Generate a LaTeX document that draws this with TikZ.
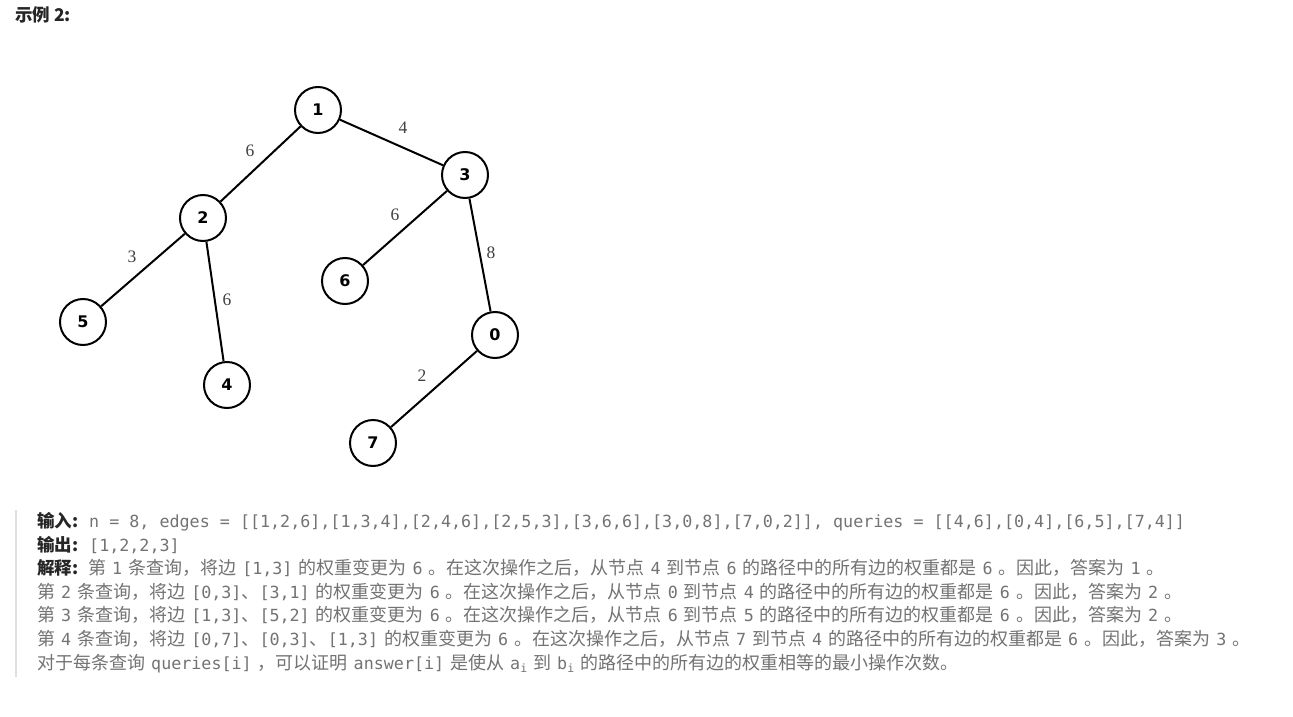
\documentclass[tikz,border=0pt]{standalone}
\usepackage{fontspec}
\setmainfont{DejaVu Sans}
\newfontfamily\cjk{Noto Sans CJK SC}
\newfontfamily\monof{DejaVu Sans Mono}
\newfontfamily\numserif{Liberation Serif}
\newfontfamily\nodefont{DejaVu Sans}
\definecolor{txtgray}{HTML}{737373}
\definecolor{lbl}{HTML}{262626}
\definecolor{bordergray}{HTML}{E0E0E0}
\newcommand{\m}[1]{{\monof\fontsize{16.7}{20}\selectfont #1}}
\newcommand{\s}{\hspace{6pt}}
\newcommand{\sub}[1]{\raisebox{-3pt}{\monof\fontsize{11.5}{12}\selectfont #1}}
\tikzset{
  vert/.style={circle, draw, line width=2pt, minimum size=46pt, inner sep=0pt,
    font=\nodefont\bfseries\fontsize{16}{18}\selectfont},
  edge/.style={line width=2pt},
  wlabel/.style={font=\numserif\fontsize{17.5}{20}\selectfont, text=black!75},
  textline/.style={anchor=base west, inner sep=0pt, text=txtgray,
    font=\cjk\fontsize{18}{22}\selectfont},
  head/.style={anchor=base west, inner sep=0pt, text=lbl,
    font=\cjk\bfseries\fontsize{17.5}{22}\selectfont}
}
\begin{document}
\begin{tikzpicture}[x=1pt,y=-1pt]
\useasboundingbox (0,0) rectangle (1293,717);
\fill[white] (0,0) rectangle (1293,717);
% title
\node[head] (title) at (15,22) {示例 2:};
% tree
\node[vert] (n1) at (318,110) {1};
\node[vert] (n3) at (465,175) {3};
\node[vert] (n2) at (203,218) {2};
\node[vert] (n6) at (345,281) {6};
\node[vert] (n5) at (83,322) {5};
\node[vert] (n0) at (495,335) {0};
\node[vert] (n4) at (227,385) {4};
\node[vert] (n7) at (373,443) {7};
\draw[edge] (n1) -- (n2);
\draw[edge] (n1) -- (n3);
\draw[edge] (n2) -- (n5);
\draw[edge] (n2) -- (n4);
\draw[edge] (n3) -- (n6);
\draw[edge] (n3) -- (n0);
\draw[edge] (n0) -- (n7);
\node[wlabel] (w12) at (250,151) {6};
\node[wlabel] (w13) at (403,128) {4};
\node[wlabel] (w36) at (395,215) {6};
\node[wlabel] (w30) at (491,253) {8};
\node[wlabel] (w25) at (132,257) {3};
\node[wlabel] (w24) at (227,300) {6};
\node[wlabel] (w07) at (422,376) {2};
% text block
\draw[bordergray, line width=2pt] (16,510) -- (16,677);
\node[head] (h1) at (37,527) {输入:};
\node[textline] (t1) at (89,527) {\m{n = 8, edges = [[1,2,6],[1,3,4],[2,4,6],[2,5,3],[3,6,6],[3,0,8],[7,0,2]], queries = [[4,6],[0,4],[6,5],[7,4]]}};
\node[head] (h2) at (37,551) {输出:};
\node[textline] (t2) at (89,551) {\m{[1,2,2,3]}};
\node[head] (h3) at (37,574) {解释:};
\node[textline] (t3) at (88,574) {第\s{}\m{1}\s{}条查询，将边\s{}\m{[1,3]}\s{}的权重变更为\s{}\m{6}\s{}。在这次操作之后，从节点\s{}\m{4}\s{}到节点\s{}\m{6}\s{}的路径中的所有边的权重都是\s{}\m{6}\s{}。因此，答案为\s{}\m{1}\s{}。};
\node[textline] (t4) at (37,598) {第\s{}\m{2}\s{}条查询，将边\s{}\m{[0,3]}、\m{[3,1]}\s{}的权重变更为\s{}\m{6}\s{}。在这次操作之后，从节点\s{}\m{0}\s{}到节点\s{}\m{4}\s{}的路径中的所有边的权重都是\s{}\m{6}\s{}。因此，答案为\s{}\m{2}\s{}。};
\node[textline] (t5) at (37,621) {第\s{}\m{3}\s{}条查询，将边\s{}\m{[1,3]}、\m{[5,2]}\s{}的权重变更为\s{}\m{6}\s{}。在这次操作之后，从节点\s{}\m{6}\s{}到节点\s{}\m{5}\s{}的路径中的所有边的权重都是\s{}\m{6}\s{}。因此，答案为\s{}\m{2}\s{}。};
\node[textline] (t6) at (37,645) {第\s{}\m{4}\s{}条查询，将边\s{}\m{[0,7]}、\m{[0,3]}、\m{[1,3]}\s{}的权重变更为\s{}\m{6}\s{}。在这次操作之后，从节点\s{}\m{7}\s{}到节点\s{}\m{4}\s{}的路径中的所有边的权重都是\s{}\m{6}\s{}。因此，答案为\s{}\m{3}\s{}。};
\node[textline] (t7) at (37,669) {对于每条查询\s{}\m{queries[i]}\s{}，可以证明\s{}\m{answer[i]}\s{}是使从\s{}\m{a}\sub{i}\s{}到\s{}\m{b}\sub{i}\s{}的路径中的所有边的权重相等的最小操作次数。};
\end{tikzpicture}
\end{document}
